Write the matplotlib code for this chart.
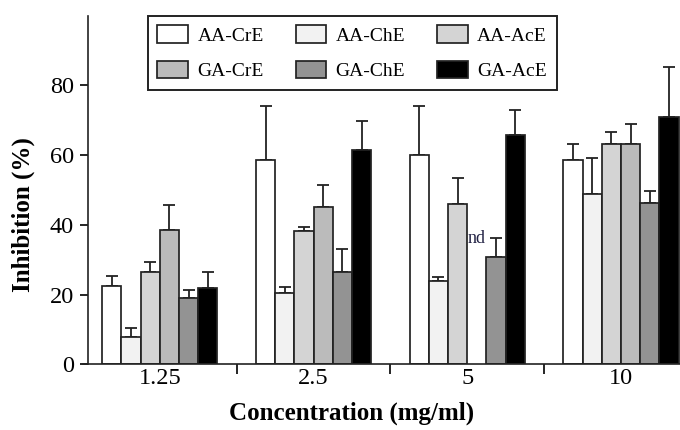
import numpy as np
import matplotlib
matplotlib.use('Agg')
import matplotlib.pyplot as plt

plt.rcParams['font.family'] = ['Liberation Serif', 'DejaVu Serif']

concentrations = ['1.25', '2.5', '5', '10']
series = ['AA-CrE', 'AA-ChE', 'AA-AcE', 'GA-CrE', 'GA-ChE', 'GA-AcE']
colors = ['#ffffff', '#f2f2f2', '#d4d4d4', '#bbbbbb', '#939393', '#000000']

# mean inhibition (%) per concentration, nan = not determined
aa_cre = [22.5, 58.6, 60.0, 58.6]
aa_che = [7.9, 20.4, 24.0, 48.8]
aa_ace = [26.5, 38.2, 46.0, 63.2]
ga_cre = [38.5, 45.1, np.nan, 63.2]
ga_che = [19.1, 26.5, 30.7, 46.4]
ga_ace = [22.0, 61.5, 65.7, 70.8]

# upper error bars
aa_cre_err = [2.7, 15.5, 14.1, 4.6]
aa_che_err = [2.4, 1.9, 1.0, 10.3]
aa_ace_err = [2.9, 1.3, 7.5, 3.4]
ga_cre_err = [7.2, 6.4, np.nan, 5.7]
ga_che_err = [2.3, 6.5, 5.6, 3.3]
ga_ace_err = [4.6, 8.2, 7.3, 14.4]

values = [aa_cre, aa_che, aa_ace, ga_cre, ga_che, ga_ace]
errors = [aa_cre_err, aa_che_err, aa_ace_err, ga_cre_err, ga_che_err, ga_ace_err]

fig = plt.figure(figsize=(6.8, 4.3), dpi=100)
ax = fig.add_axes([83 / 680, 1 - 364.3 / 430, 597 / 680, 348.6 / 430])

x = np.arange(len(concentrations))
width = 0.125
handles = {}
for i, (name, vals, errs, c) in enumerate(zip(series, values, errors, colors)):
    pos = x + (i - 2.5) * width
    vals = np.array(vals)
    errs = np.array(errs)
    b = ax.bar(pos, vals, width, color=c, edgecolor='#222222', linewidth=1.25, label=name, zorder=2)
    handles[name] = b
    ok = np.isfinite(vals)
    ax.errorbar(pos[ok], vals[ok], yerr=[np.zeros(ok.sum()), errs[ok]], fmt='none',
                ecolor='#222222', elinewidth=1.3, capsize=4.6, capthick=1.3, zorder=1)

# not determined marker
ax.text(2 + 0.5 * width, 36, 'nd', ha='center', va='center', fontsize=13, color='#222244', zorder=3)

ax.set_xlim(-0.5, 3.384)
ax.set_ylim(0, 100)
ax.set_yticks([0, 20, 40, 60, 80])
ax.set_xticks(x)
ax.set_xticklabels(concentrations)
ax.set_xticks([0.5, 1.5, 2.5], minor=True)
ax.tick_params(axis='x', which='major', length=0, pad=3, labelsize=17.5)
ax.tick_params(axis='x', which='minor', length=7, width=1.2, direction='out')
ax.tick_params(axis='y', length=6, width=1.2, pad=4.3, labelsize=17.5)

ax.spines['top'].set_visible(False)
ax.spines['right'].set_visible(False)
ax.spines['left'].set_position(('data', -0.465))
for s in ['left', 'bottom']:
    ax.spines[s].set_linewidth(1.2)
    ax.spines[s].set_color('#222222')

fig.text(23 / 680, 1 - 214.7 / 430, 'Inhibition (%)', rotation=90, ha='center', va='center',
         fontsize=18, fontweight='bold')
fig.text(352 / 680, 1 - 413 / 430, 'Concentration (mg/ml)', ha='center', va='center',
         fontsize=18, fontweight='bold')

order = ['AA-CrE', 'GA-CrE', 'AA-ChE', 'GA-ChE', 'AA-AcE', 'GA-AcE']
leg = ax.legend([handles[n] for n in order], order, ncol=3, loc='upper right',
                bbox_to_anchor=(556.7 / 680, 1 - 15.7 / 430), bbox_transform=fig.transFigure,
                borderaxespad=0, fontsize=14, handlelength=1.57, handleheight=1.03,
                handletextpad=0.48, columnspacing=1.65, labelspacing=0.8, borderpad=0.5,
                fancybox=False, framealpha=1)
leg.get_frame().set_edgecolor('#222222')
leg.get_frame().set_linewidth(1.4)

fig.savefig('out.png', dpi=100)
